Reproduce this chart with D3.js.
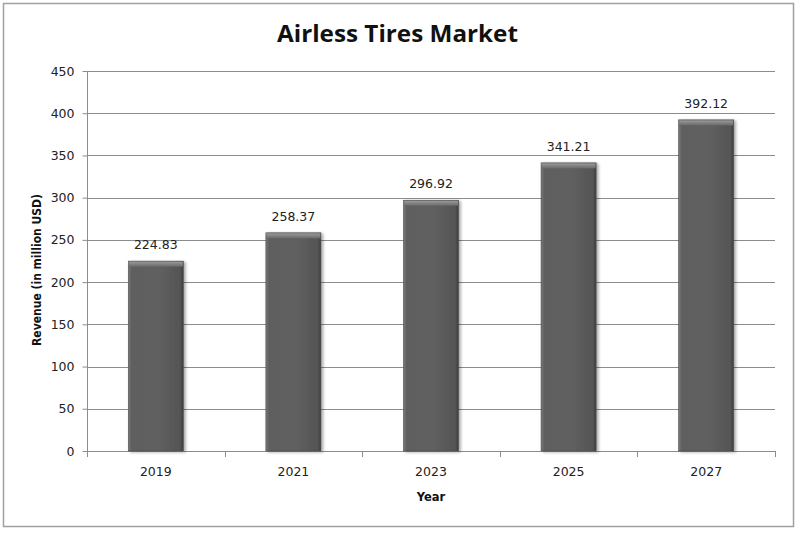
<!DOCTYPE html>
<html><head><meta charset="utf-8">
<script src="https://cdn.jsdelivr.net/npm/d3@7/dist/d3.min.js"></script>
<style>body{margin:0;background:#fff}svg{display:block}</style>
</head><body>
<svg id="c" width="800" height="535"></svg>
<script>
const categories = ["2019","2021","2023","2025","2027"];
const values = [224.83, 258.37, 296.92, 341.21, 392.12];
const yTicks = [0,50,100,150,200,250,300,350,400,450];
const title = "Airless Tires Market";
const xTitle = "Year";
const yTitle = "Revenue (in million USD)";

const svg = d3.select("#c");
const m = {l:87, r:775, t:71, b:451};
const x = d3.scaleBand().domain(categories).range([m.l, m.r]).padding(0);
const y = d3.scaleLinear().domain([0,450]).range([m.b, m.t]);

svg.append("rect").attr("x",3.5).attr("y",3.5).attr("width",790).attr("height",523)
  .attr("fill","#fff").attr("stroke","#a0a0a0").attr("stroke-width",1.5);

const defs = svg.append("defs");
const g1 = defs.append("linearGradient").attr("id","bar").attr("x1",0).attr("x2",1).attr("y1",0).attr("y2",0);
[[0,"#7a7a7a"],[0.06,"#5e5e5e"],[0.5,"#616161"],[0.94,"#555"],[1,"#3e3e3e"]].forEach(s=>g1.append("stop").attr("offset",s[0]).attr("stop-color",s[1]));
const g2 = defs.append("linearGradient").attr("id","top").attr("x1",0).attr("x2",0).attr("y1",0).attr("y2",1);
[[0,"#9a9a9a"],[1,"#6a6a6a"]].forEach(s=>g2.append("stop").attr("offset",s[0]).attr("stop-color",s[1]));
const f = defs.append("filter").attr("id","sh").attr("x","-20%").attr("y","-10%").attr("width","150%").attr("height","130%");
f.append("feGaussianBlur").attr("in","SourceAlpha").attr("stdDeviation",1.5);
f.append("feOffset").attr("dx",2).attr("dy",1).attr("result","o");
f.append("feComponentTransfer").append("feFuncA").attr("type","linear").attr("slope",0.35);
const mg = f.append("feMerge"); mg.append("feMergeNode"); mg.append("feMergeNode").attr("in","SourceGraphic");

// gridlines
svg.append("g").selectAll("line").data(yTicks.filter(d=>d>0)).join("line")
  .attr("x1",m.l).attr("x2",m.r).attr("y1",d=>Math.round(y(d))+0.5).attr("y2",d=>Math.round(y(d))+0.5)
  .attr("stroke","#8c8c8c").attr("stroke-width",1);

// y axis
const ya = svg.append("g").attr("transform",`translate(${m.l+0.5},0)`)
  .call(d3.axisLeft(y).tickValues(yTicks).tickSize(5).tickPadding(8).tickFormat(d3.format("d")));
ya.select(".domain").attr("stroke","#8c8c8c").attr("d",`M0,${m.t}V${m.b}`);
ya.selectAll(".tick line").attr("stroke","#8c8c8c");
ya.selectAll("text").attr("font-family","DejaVu Sans").attr("font-size",12.5).attr("fill","#222");

// x axis
const xa = svg.append("g").attr("transform",`translate(0,${m.b+0.5})`)
  .call(d3.axisBottom(x).tickSize(0).tickPadding(16));
xa.select(".domain").attr("stroke","#8c8c8c").attr("d",`M${m.l},0H${m.r}`);
xa.selectAll(".tick line").remove();
xa.selectAll("text").attr("font-family","DejaVu Sans").attr("font-size",12.5).attr("fill","#222");
const bounds = categories.map(c=>x(c)).concat([m.r]);
svg.append("g").selectAll("line").data(bounds).join("line")
  .attr("x1",d=>Math.round(d)+0.5).attr("x2",d=>Math.round(d)+0.5).attr("y1",m.b).attr("y2",m.b+6)
  .attr("stroke","#8c8c8c");

// bars
const bw = x.bandwidth()*0.4;
const bars = svg.append("g").selectAll("g").data(values).join("g");
bars.append("rect").attr("filter","url(#sh)")
  .attr("x",(d,i)=>x(categories[i])+x.bandwidth()/2-bw/2).attr("width",bw)
  .attr("y",d=>y(d)).attr("height",d=>y(0)-y(d)).attr("fill","url(#bar)").attr("stroke","#4a4a4a").attr("stroke-width",0.6);
bars.append("rect")
  .attr("x",(d,i)=>x(categories[i])+x.bandwidth()/2-bw/2+0.5).attr("width",bw-1)
  .attr("y",d=>y(d)+0.5).attr("height",5).attr("fill","url(#top)");
bars.append("text")
  .attr("x",(d,i)=>x(categories[i])+x.bandwidth()/2).attr("y",d=>y(d)-12)
  .attr("text-anchor","middle").attr("font-family","DejaVu Sans").attr("font-size",12.5).attr("fill","#222")
  .text(d=>d3.format(".2f")(d));

// titles
svg.append("text").attr("x",397.5).attr("y",42).attr("text-anchor","middle")
  .attr("font-family","Open Sans").attr("font-weight","bold").attr("font-size",24)
  .attr("textLength",241).attr("lengthAdjust","spacingAndGlyphs").attr("fill","#111").text(title);
svg.append("text").attr("x",431).attr("y",501).attr("text-anchor","middle")
  .attr("font-family","DejaVu Sans").attr("font-weight","bold").attr("font-size",11.5).attr("fill","#111").text(xTitle);
svg.append("text").attr("transform",`translate(41,${(m.t+m.b)/2+9}) rotate(-90)`).attr("text-anchor","middle")
  .attr("font-family","DejaVu Sans").attr("font-weight","bold").attr("font-size",11.5)
  .attr("textLength",152).attr("lengthAdjust","spacingAndGlyphs").attr("fill","#111").text(yTitle);
</script>
</body></html>
